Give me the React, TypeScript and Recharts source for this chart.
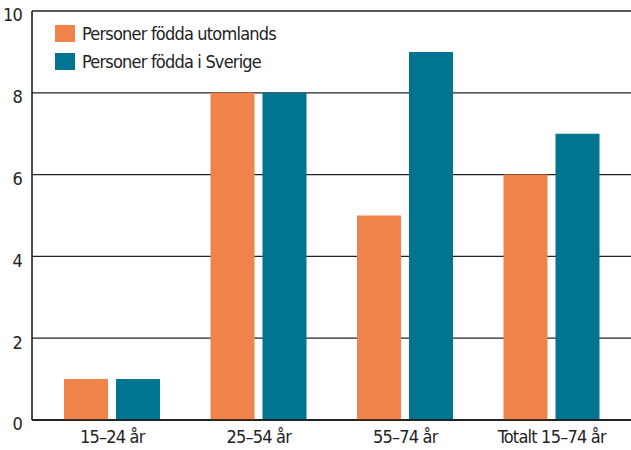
import React from 'react';
import { BarChart, Bar, XAxis, YAxis, CartesianGrid } from 'recharts';

const categories = ['15–24 år', '25–54 år', '55–74 år', 'Totalt 15–74 år'];
const utomlands = [1, 8, 5, 6];
const sverige = [1, 8, 9, 7];
const yTicks = [0, 2, 4, 6, 8, 10];
const seriesNames = ['Personer födda utomlands', 'Personer födda i Sverige'];
const colors = ['#EF834A', '#007491'];

const data = categories.map((c, i) => ({ name: c, a: utomlands[i], b: sverige[i] }));

const FONT = '"Liberation Sans Narrow", "DejaVu Sans Condensed", sans-serif';
const LS = '-0.8px';

const LegendBox = () => (
  <div
    style={{
      position: 'absolute',
      left: 55,
      top: 19,
      fontFamily: FONT,
      fontSize: 18,
      letterSpacing: LS,
      color: '#222',
    }}
  >
    {seriesNames.map((n, i) => (
      <div key={n} style={{ display: 'flex', alignItems: 'center', height: 28 }}>
        <div style={{ width: 20, height: 17, background: colors[i], marginRight: 7 }} />
        <span>{n}</span>
      </div>
    ))}
  </div>
);

export default function App() {
  return (
    <div style={{ position: 'absolute', left: 0, top: 0, width: 631, height: 450, background: '#fff' }}>
      <BarChart
        width={631}
        height={450}
        data={data}
        margin={{ top: 11, right: 0, bottom: 0, left: 0 }}
        barSize={44}
        barGap={8}
      >
        <CartesianGrid vertical={false} stroke="#222" strokeWidth={1.3} />
        <XAxis
          dataKey="name"
          height={30}
          padding={{ left: 7, right: 6 }}
          tickLine={false}
          axisLine={{ stroke: '#111', strokeWidth: 1.5 }}
          tick={{ fontFamily: FONT, fontSize: 18, fill: '#222', dy: 2, style: { letterSpacing: LS } }}
        />
        <YAxis
          width={32}
          domain={[0, 10]}
          ticks={yTicks}
          tickLine={false}
          axisLine={{ stroke: '#111', strokeWidth: 1.5 }}
          tick={{ fontFamily: FONT, fontSize: 18, fill: '#222', dy: 4, dx: -2, style: { letterSpacing: LS } }}
        />
        <Bar dataKey="a" name={seriesNames[0]} fill={colors[0]} isAnimationActive={false} />
        <Bar dataKey="b" name={seriesNames[1]} fill={colors[1]} isAnimationActive={false} />
      </BarChart>
      <LegendBox />
    </div>
  );
}
